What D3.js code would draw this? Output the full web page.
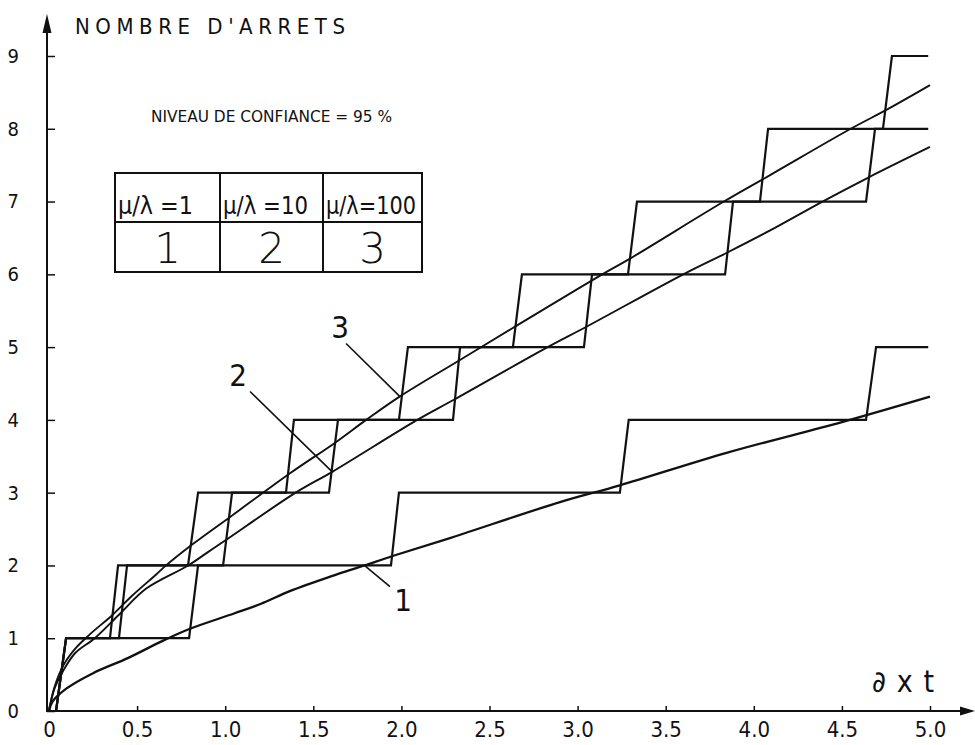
<!DOCTYPE html>
<html><head><meta charset="utf-8">
<script src="https://cdn.jsdelivr.net/npm/d3@7"></script>
<style>
body{margin:0;background:#fff}
svg{display:block;background:#fff}
text{fill:#111}
</style>
</head><body>
<svg id="c" width="975" height="745"></svg>
<script>
// ---------- DATA ----------
const xTicks = [0, 0.5, 1, 1.5, 2, 2.5, 3, 3.5, 4, 4.5, 5];
const xTickLabels = ["0", "0.5", "1.0", "1.5", "2.0", "2.5", "3.0", "3.5", "4.0", "4.5", "5.0"];
const yTicks = [0, 1, 2, 3, 4, 5, 6, 7, 8, 9];
const yTickLabels = ["0", "1", "2", "3", "4", "5", "6", "7", "8", "9"];

const yTitle = "NOMBRE D'ARRETS";
const xTitle = "∂ x t";
const confidenceText = "NIVEAU DE CONFIANCE = 95 %";
const tableHeaders = ["μ/λ =1", "μ/λ =10", "μ/λ=100"];
const tableIds = ["1", "2", "3"];

// smooth curves [x, y]
const curve1 = [[0,0],[0.02,0.13],[0.1,0.31],[0.25,0.52],[0.45,0.73],[0.65,0.97],[0.8,1.13],[1.05,1.34],[1.2,1.47],[1.37,1.65],[1.6,1.85],[1.79,2.0],[1.95,2.13],[2.28,2.38],[2.9,2.87],[3.24,3.1],[3.85,3.55],[4.5,3.97],[5.0,4.32]];
const curve2 = [[0,0],[0.03,0.3],[0.08,0.55],[0.15,0.8],[0.26,1.0],[0.4,1.33],[0.55,1.68],[0.79,2.0],[0.9,2.18],[1.01,2.36],[1.4,3.0],[1.61,3.29],[2.09,4.0],[2.3,4.28],[2.83,5.0],[3.05,5.28],[3.6,6.0],[3.85,6.3],[4.09,6.6],[4.39,7.0],[4.65,7.33],[5.0,7.75]];
const curve3 = [[0,0],[0.03,0.32],[0.08,0.62],[0.15,0.86],[0.23,1.05],[0.36,1.32],[0.47,1.58],[0.61,1.88],[0.65,1.97],[0.82,2.3],[1.03,2.67],[1.37,3.27],[1.62,3.68],[1.8,4.0],[1.99,4.32],[2.33,4.82],[2.63,5.26],[3.14,6.0],[3.3,6.22],[3.83,7.0],[4.09,7.36],[4.55,8.0],[4.76,8.27],[5.0,8.6]];

// staircases: each riser = [x at lower level, x at upper level]
const steps1 = [[0.04,0.097],[0.795,0.846],[1.941,1.986],[3.24,3.29],[4.637,4.694]];
const steps2 = [[0.04,0.097],[0.397,0.443],[0.988,1.039],[1.589,1.64],[2.293,2.333],[3.036,3.082],[3.837,3.882],[4.637,4.688]];
const steps3 = [[0.04,0.097],[0.346,0.392],[0.789,0.846],[1.345,1.39],[1.986,2.037],[2.633,2.684],[3.286,3.337],[4.035,4.081],[4.733,4.784]];
const stepsEnd = 4.99;

// curve labels: [text, label x, label y, leader from x, from y, to x, to y]
const curveLabels = [
  ["1", 2.01, 1.52, 1.935, 1.71, 1.79, 2.0],
  ["2", 1.073, 4.62, 1.141, 4.39, 1.606, 3.29],
  ["3", 1.652, 5.28, 1.686, 5.05, 1.992, 4.32]
];

// ---------- DRAW ----------
const svg = d3.select("#c");
const x = d3.scaleLinear().domain([0, 5]).range([49, 930]);
const y = d3.scaleLinear().domain([0, 9]).range([711, 56]);
const ink = "#111";
const tickFont = "'DejaVu Sans Condensed','Liberation Sans Narrow',sans-serif";

// axes lines with arrows
svg.append("line").attr("x1", 47).attr("y1", 712).attr("x2", 47).attr("y2", 28)
  .attr("stroke", ink).attr("stroke-width", 2);
svg.append("path").attr("d", "M47,14 L42.5,33 L51.5,33 Z").attr("fill", ink);
svg.append("line").attr("x1", 46).attr("y1", 711).attr("x2", 962).attr("y2", 711)
  .attr("stroke", ink).attr("stroke-width", 2);
svg.append("path").attr("d", "M975,711 L960,706.5 L960,715.5 Z").attr("fill", ink);

// y axis (ticks pointing inward)
const yAxis = d3.axisLeft(y).tickValues(yTicks).tickFormat((d, i) => yTickLabels[i])
  .tickSizeInner(-8).tickSizeOuter(0).tickPadding(28);
const gy = svg.append("g").attr("transform", "translate(47,0)").call(yAxis);
gy.select(".domain").remove();
gy.selectAll(".tick line").attr("stroke", ink).attr("stroke-width", 1.5);
gy.selectAll(".tick text").attr("font-family", tickFont).attr("font-size", 20).attr("fill", ink);

// x axis
const xAxis = d3.axisBottom(x).tickValues(xTicks).tickFormat((d, i) => xTickLabels[i])
  .tickSizeInner(-5).tickSizeOuter(0).tickPadding(10);
const gx = svg.append("g").attr("transform", "translate(0,711)").call(xAxis);
gx.select(".domain").remove();
gx.selectAll(".tick line").attr("stroke", ink).attr("stroke-width", 1.5);
gx.selectAll(".tick text").attr("font-family", tickFont).attr("font-size", 22).attr("fill", ink);

// staircases
function stairPoints(risers, end) {
  const pts = [[0, 0]];
  risers.forEach((r, i) => { pts.push([r[0], i]); pts.push([r[1], i + 1]); });
  pts.push([end, risers.length]);
  return pts;
}
const line = d3.line().x(d => x(d[0])).y(d => y(d[1]));
[steps1, steps2, steps3].forEach(s => {
  svg.append("path").attr("d", line(stairPoints(s, stepsEnd)))
    .attr("fill", "none").attr("stroke", ink).attr("stroke-width", 2.2).attr("stroke-linejoin", "miter");
});

// smooth curves
const smooth = d3.line().x(d => x(d[0])).y(d => y(d[1])).curve(d3.curveCatmullRom.alpha(0.5));
[curve1, curve2, curve3].forEach((c, i) => {
  svg.append("path").attr("d", smooth(c)).attr("fill", "none")
    .attr("stroke", ink).attr("stroke-width", i === 0 ? 2.3 : 1.9);
});

// curve labels and leaders
curveLabels.forEach(l => {
  svg.append("line").attr("x1", x(l[3])).attr("y1", y(l[4])).attr("x2", x(l[5])).attr("y2", y(l[6]))
    .attr("stroke", ink).attr("stroke-width", 1.6);
  svg.append("text").attr("x", x(l[1])).attr("y", y(l[2])).attr("text-anchor", "middle")
    .attr("dominant-baseline", "central").attr("font-family", tickFont).attr("font-size", 31).text(l[0]);
});

// titles
svg.append("text").attr("x", 75).attr("y", 34).attr("font-family", "'DejaVu Sans Condensed',sans-serif")
  .attr("font-size", 22).attr("font-weight", 200).attr("textLength", 270).attr("lengthAdjust", "spacing")
  .attr("fill", "#222").text(yTitle);
svg.append("text").attr("x", 872).attr("y", 692).attr("font-family", tickFont)
  .attr("font-size", 30).attr("textLength", 62).attr("lengthAdjust", "spacing").text(xTitle);
svg.append("text").attr("x", 151).attr("y", 122).attr("font-family", "'DejaVu Sans Condensed',sans-serif")
  .attr("font-size", 16).attr("textLength", 241).attr("lengthAdjust", "spacingAndGlyphs").text(confidenceText);

// legend table
const T = {x0: 115, x1: 220, x2: 323, x3: 422, y0: 173, y1: 222, y2: 272};
const tbl = svg.append("g").attr("stroke", ink).attr("stroke-width", 2).attr("fill", "none");
tbl.append("rect").attr("x", T.x0).attr("y", T.y0).attr("width", T.x3 - T.x0).attr("height", T.y2 - T.y0);
tbl.append("line").attr("x1", T.x0).attr("y1", T.y1).attr("x2", T.x3).attr("y2", T.y1);
tbl.append("line").attr("x1", T.x1).attr("y1", T.y0).attr("x2", T.x1).attr("y2", T.y2);
tbl.append("line").attr("x1", T.x2).attr("y1", T.y0).attr("x2", T.x2).attr("y2", T.y2);
const cols = [[T.x0, T.x1], [T.x1, T.x2], [T.x2, T.x3]];
const headerWidths = [75, 85, 90];
tableHeaders.forEach((h, i) => {
  const [a] = cols[i];
  svg.append("text").attr("x", a + 3).attr("y", T.y1 - 8).attr("font-family", tickFont)
    .attr("font-size", 25).attr("textLength", headerWidths[i]).attr("lengthAdjust", "spacingAndGlyphs").text(h);
});
tableIds.forEach((t, i) => {
  const [a, b] = cols[i];
  svg.append("text").attr("x", (a + b) / 2).attr("y", T.y2 - 9).attr("text-anchor", "middle")
    .attr("font-family", "'DejaVu Sans',sans-serif").attr("font-size", 42).attr("font-weight", 200).text(t);
});
</script>
</body></html>
